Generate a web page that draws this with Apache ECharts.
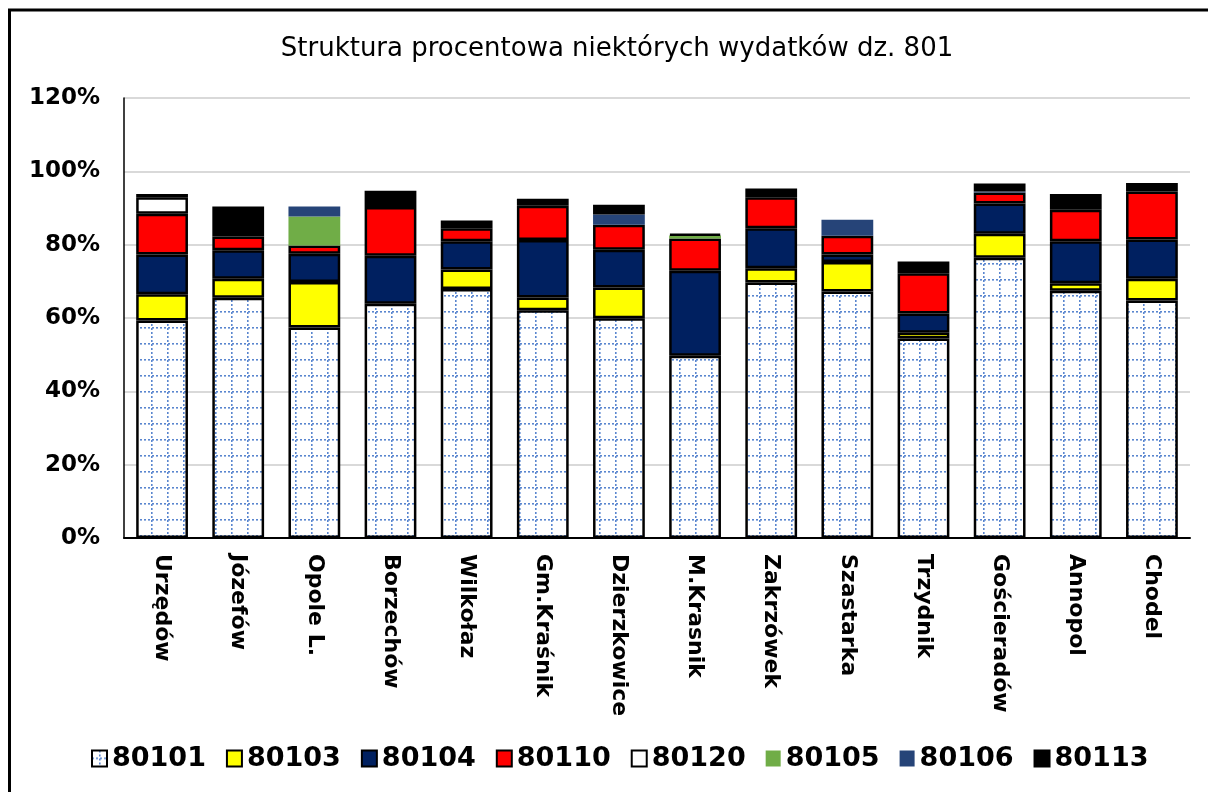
<!DOCTYPE html>
<html>
<head>
<meta charset="utf-8">
<title>Struktura procentowa niektórych wydatków dz. 801</title>
<script src="https://cdn.jsdelivr.net/npm/echarts@6/dist/echarts.min.js"></script>
<style>
  html, body { margin: 0; padding: 0; background: #ffffff; }
  #chart { width: 1208px; height: 792px; }
</style>
</head>
<body>
<div id="chart"></div>
<script>
// Gminy (categories) and expense shares in percent, stacked bottom to top
const categories = ['Urzędów', 'Józefów', 'Opole L.', 'Borzechów', 'Wilkołaz', 'Gm.Kraśnik',
  'Dzierzkowice', 'M.Krasnik', 'Zakrzówek', 'Szastarka', 'Trzydnik', 'Gościeradów', 'Annopol', 'Chodel'];

const s80101 = [59.3, 65.5, 57.4, 63.9, 67.9, 62.1, 59.9, 49.7, 69.7, 67.2, 54.4, 76.4, 67.4, 64.8];
const s80103 = [7.2, 5.2, 12.4, 0, 5.3, 3.5, 8.4, 0, 3.9, 8.1, 1.6, 6.6, 2.1, 5.9];
const s80104 = [10.8, 7.8, 7.7, 13.1, 7.7, 15.7, 10.3, 23.2, 10.9, 2.0, 5.2, 8.2, 11.4, 10.7];
const s80110 = [11.1, 3.7, 2.3, 13.3, 3.6, 9.3, 6.8, 8.8, 8.4, 5.1, 11.0, 3.0, 8.6, 13.1];
const s80120 = [4.5, 0, 0, 0, 0, 0, 0, 0, 0, 0, 0, 0, 0, 0];
const s80105 = [0, 0, 7.9, 0, 0, 0, 0, 0.8, 0, 0, 0, 0, 0, 0];
const s80106 = [0, 0, 2.7, 0, 0, 0, 2.8, 0, 0, 4.4, 0, 0.3, 0, 0];
const s80113 = [0.9, 8.2, 0, 4.4, 2.1, 1.9, 2.7, 0.4, 2.4, 0, 3.2, 2.2, 4.3, 2.3];

const yTicks = [0, 20, 40, 60, 80, 100, 120];

// dotted blue grid fill used for the 80101 segments
function makeDotGrid() {
  const c = document.createElement('canvas');
  c.width = 16; c.height = 16;
  const g = c.getContext('2d');
  g.fillStyle = '#ffffff';
  g.fillRect(0, 0, 16, 16);
  g.fillStyle = '#5a86cf';
  for (let i = 0; i < 16; i += 4) {
    g.fillRect(i, 7, 2, 1.6);   // horizontal dotted line
    g.fillRect(7, i, 1.6, 2);   // vertical dotted line
  }
  return c;
}

const seriesDefs = [
  { name: '80101', data: s80101, color: { image: makeDotGrid(), repeat: 'repeat' }, border: true },
  { name: '80103', data: s80103, color: '#ffff00', border: true },
  { name: '80104', data: s80104, color: '#002060', border: true },
  { name: '80110', data: s80110, color: '#ff0000', border: true },
  { name: '80120', data: s80120, color: '#ffffff', border: true },
  { name: '80105', data: s80105, color: '#70ad47', border: false },
  { name: '80106', data: s80106, color: '#264478', border: false },
  { name: '80113', data: s80113, color: '#000000', border: true }
];

const series = seriesDefs.map(d => ({
  name: d.name,
  type: 'bar',
  stack: 'total',
  barWidth: '68%',
  data: d.data.map(v => (v === 0 ? null : v)),
  itemStyle: {
    color: d.color,
    borderColor: d.border ? '#000000' : 'transparent',
    borderWidth: d.border ? 2.5 : 0
  },
  emphasis: { disabled: true }
}));

const chart = echarts.init(document.getElementById('chart'), null, { renderer: 'canvas' });

chart.setOption({
  animation: false,
  backgroundColor: '#ffffff',
  title: {
    text: 'Struktura procentowa niektórych wydatków dz. 801',
    left: 612,
    top: 31,
    textAlign: 'center',
    textStyle: { fontFamily: 'DejaVu Sans', fontSize: 26, fontWeight: 'normal', color: '#000000' }
  },
  graphic: [{
    type: 'rect',
    shape: { x: 9.5, y: 10, width: 1300, height: 900 },
    style: { fill: 'none', stroke: '#000000', lineWidth: 3 },
    silent: true
  }],
  legend: {
    bottom: 15,
    left: 86,
    itemWidth: 15,
    itemHeight: 16,
    itemGap: 20,
    icon: 'rect',
    textStyle: { fontFamily: 'DejaVu Sans', fontSize: 27, fontWeight: 'bold', color: '#000000' },
    data: seriesDefs.map(d => d.name)
  },
  grid: { left: 124, right: 18, top: 98, bottom: 254, containLabel: false },
  xAxis: {
    type: 'category',
    data: categories,
    axisLine: { lineStyle: { color: '#000000', width: 2 } },
    axisTick: { show: false },
    axisLabel: {
      rotate: -90,
      margin: 16,
      fontFamily: 'DejaVu Sans',
      fontSize: 22,
      fontWeight: 'bold',
      color: '#000000',
      interval: 0
    }
  },
  yAxis: {
    type: 'value',
    min: yTicks[0],
    max: yTicks[yTicks.length - 1],
    interval: 20,
    axisLine: { show: true, lineStyle: { color: '#000000', width: 1.5 } },
    axisTick: { show: false },
    splitLine: { lineStyle: { color: '#d9d9d9', width: 2 } },
    axisLabel: {
      formatter: '{value}%',
      margin: 24,
      fontFamily: 'DejaVu Sans',
      fontSize: 23,
      fontWeight: 'bold',
      color: '#000000'
    }
  },
  series: series
});
</script>
</body>
</html>
